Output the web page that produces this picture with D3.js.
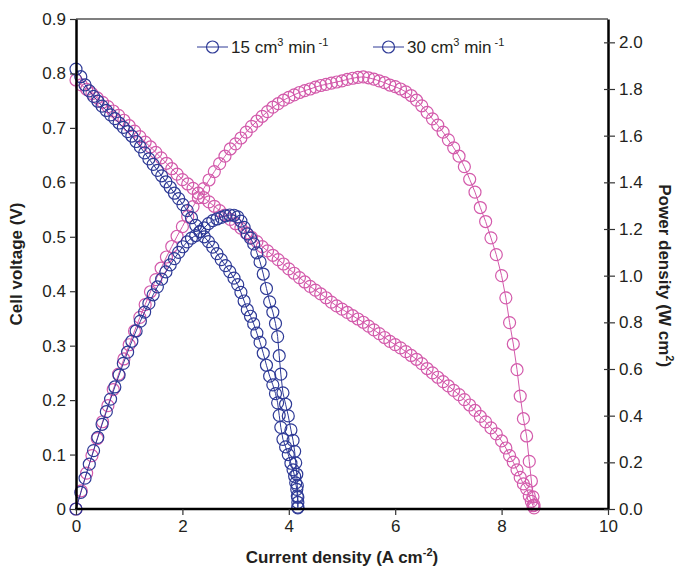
<!DOCTYPE html>
<html>
<head>
<meta charset="utf-8">
<script src="https://cdn.jsdelivr.net/npm/d3@7"></script>
<style>
  body { margin: 0; background: #fff; }
  text { font-family: "Liberation Sans", Arial, sans-serif; fill: #231f20; }
</style>
</head>
<body>
<div id="chart"></div>
<script>

// 15 cm3/min (blue)
var cur15 = [0, 0.09, 0.17, 0.25, 0.33, 0.41, 0.49, 0.57, 0.65, 0.73, 0.81, 0.89, 0.97, 1.05, 1.13, 1.21, 1.29, 1.37, 1.45, 1.53,
             1.61, 1.69, 1.77, 1.85, 1.93, 2.01, 2.09, 2.17, 2.25, 2.33, 2.41, 2.49, 2.57, 2.65, 2.73, 2.81, 2.89, 2.97, 3.04, 3.10,
             3.16, 3.22, 3.28, 3.34, 3.40, 3.46, 3.52, 3.58, 3.64, 3.70, 3.75, 3.79, 3.82, 3.85, 3.89, 3.94, 3.99, 4.04, 4.08, 4.11,
             4.13, 4.15, 4.16, 4.17, 4.17];
var volt15 = [0.808, 0.794, 0.779, 0.768, 0.758, 0.749, 0.740, 0.732, 0.724, 0.717, 0.709, 0.701, 0.693, 0.685, 0.675, 0.665, 0.654, 0.643, 0.633, 0.622,
              0.612, 0.601, 0.591, 0.580, 0.570, 0.559, 0.548, 0.535, 0.521, 0.510, 0.500, 0.491, 0.481, 0.469, 0.458, 0.447, 0.436, 0.424, 0.412, 0.398,
              0.382, 0.366, 0.354, 0.340, 0.323, 0.306, 0.286, 0.264, 0.244, 0.228, 0.212, 0.195, 0.172, 0.150, 0.128, 0.114, 0.100, 0.084, 0.072, 0.060,
              0.048, 0.036, 0.024, 0.012, 0.002];
var pow15 = [0, 0.071, 0.132, 0.192, 0.250, 0.307, 0.363, 0.417, 0.471, 0.523, 0.574, 0.624, 0.672, 0.719, 0.763, 0.805, 0.844, 0.881, 0.918, 0.952,
             0.985, 1.016, 1.046, 1.073, 1.100, 1.124, 1.145, 1.161, 1.172, 1.188, 1.205, 1.223, 1.236, 1.243, 1.250, 1.256, 1.260, 1.259, 1.252, 1.234,
             1.207, 1.179, 1.161, 1.136, 1.098, 1.059, 1.007, 0.945, 0.888, 0.844, 0.795, 0.739, 0.657, 0.578, 0.498, 0.449, 0.399, 0.339, 0.294, 0.247,
             0.198, 0.149, 0.100, 0.050, 0.008];

// 30 cm3/min (pink)
var cur30 = [0, 0.1, 0.2, 0.3, 0.4, 0.5, 0.6, 0.7, 0.8, 0.9, 1.0, 1.1, 1.2, 1.3, 1.4, 1.5, 1.6, 1.7, 1.8, 1.9,
             2.0, 2.1, 2.2, 2.3, 2.4, 2.5, 2.6, 2.7, 2.8, 2.9, 3.0, 3.1, 3.2, 3.3, 3.4, 3.5, 3.6, 3.7, 3.8, 3.9,
             4.0, 4.1, 4.2, 4.3, 4.4, 4.5, 4.6, 4.7, 4.8, 4.9, 5.0, 5.1, 5.2, 5.3, 5.4, 5.5, 5.6, 5.7, 5.8, 5.9,
             6.0, 6.1, 6.2, 6.3, 6.4, 6.5, 6.6, 6.7, 6.8, 6.9, 7.0, 7.1, 7.2, 7.3, 7.4, 7.5, 7.6, 7.7, 7.8, 7.9,
             8.0, 8.08, 8.15, 8.22, 8.29, 8.35, 8.41, 8.47, 8.52, 8.56, 8.59, 8.61];
var volt30 = [0.788, 0.779, 0.771, 0.763, 0.755, 0.747, 0.739, 0.731, 0.723, 0.714, 0.704, 0.694, 0.684, 0.674, 0.665, 0.655, 0.645, 0.635, 0.625, 0.615,
              0.605, 0.597, 0.589, 0.580, 0.572, 0.564, 0.556, 0.548, 0.540, 0.532, 0.524, 0.516, 0.507, 0.499, 0.491, 0.482, 0.474, 0.466, 0.458, 0.450,
              0.441, 0.433, 0.425, 0.417, 0.409, 0.402, 0.395, 0.388, 0.380, 0.373, 0.367, 0.361, 0.355, 0.349, 0.343, 0.336, 0.329, 0.322, 0.315, 0.308,
              0.302, 0.296, 0.289, 0.282, 0.275, 0.267, 0.258, 0.250, 0.242, 0.234, 0.226, 0.218, 0.210, 0.201, 0.191, 0.181, 0.170, 0.160, 0.149, 0.138,
              0.125, 0.112, 0.098, 0.086, 0.072, 0.058, 0.046, 0.037, 0.024, 0.014, 0.006, 0.002];
var pow30 = [0, 0.078, 0.154, 0.229, 0.302, 0.374, 0.443, 0.512, 0.578, 0.643, 0.704, 0.763, 0.821, 0.876, 0.931, 0.983, 1.032, 1.080, 1.125, 1.169,
             1.210, 1.254, 1.296, 1.334, 1.373, 1.410, 1.446, 1.480, 1.512, 1.543, 1.565, 1.590, 1.615, 1.640, 1.662, 1.683, 1.703, 1.722, 1.737, 1.752,
             1.764, 1.775, 1.785, 1.793, 1.800, 1.808, 1.815, 1.820, 1.825, 1.830, 1.835, 1.841, 1.846, 1.850, 1.852, 1.848, 1.842, 1.835, 1.827, 1.817,
             1.810, 1.800, 1.788, 1.772, 1.752, 1.728, 1.700, 1.672, 1.645, 1.615, 1.582, 1.548, 1.512, 1.467, 1.413, 1.358, 1.292, 1.232, 1.162, 1.090,
             1.000, 0.905, 0.799, 0.707, 0.597, 0.484, 0.387, 0.313, 0.204, 0.120, 0.052, 0.017];

var xTicks = [0, 2, 4, 6, 8, 10];
var voltTicks = [0, 0.1, 0.2, 0.3, 0.4, 0.5, 0.6, 0.7, 0.8, 0.9];
var powTicks = [0, 0.2, 0.4, 0.6, 0.8, 1.0, 1.2, 1.4, 1.6, 1.8, 2.0];

var width = 678, height = 569;
var margin = { top: 19, right: 70, bottom: 60, left: 76 };
var blue = "#2e3a96", pink = "#d35aab";

var svg = d3.select("#chart").append("svg")
  .attr("width", width)
  .attr("height", height);

var x = d3.scaleLinear().domain([0, 10]).range([margin.left, width - margin.right]);
var yV = d3.scaleLinear().domain([0, 0.9]).range([height - margin.bottom, margin.top]);
var yP = d3.scaleLinear().domain([0, 2.1]).range([height - margin.bottom, margin.top]);

// top frame line
svg.append("line")
  .attr("x1", x(0)).attr("x2", x(10))
  .attr("y1", yV(0.9)).attr("y2", yV(0.9))
  .attr("stroke", "#000").attr("stroke-width", 1.2);

function drawSeries(cur, vals, yScale, col) {
  var pts = cur.map(function(c, i) { return [c, vals[i]]; });
  var line = d3.line()
    .x(function(d) { return x(d[0]); })
    .y(function(d) { return yScale(d[1]); });
  svg.append("path")
    .datum(pts)
    .attr("d", line)
    .attr("fill", "none")
    .attr("stroke", col)
    .attr("stroke-width", 1);
  svg.append("g").selectAll("circle")
    .data(pts)
    .enter()
    .append("circle")
    .attr("cx", function(d) { return x(d[0]); })
    .attr("cy", function(d) { return yScale(d[1]); })
    .attr("r", 6)
    .attr("fill", "none")
    .attr("stroke", col)
    .attr("stroke-width", 1.2);
}

drawSeries(cur30, volt30, yV, pink);
drawSeries(cur30, pow30, yP, pink);
drawSeries(cur15, volt15, yV, blue);
drawSeries(cur15, pow15, yP, blue);

// axes
var xAxis = d3.axisBottom(x).tickValues(xTicks).tickSize(6).tickSizeOuter(0).tickPadding(5);
var yAxisL = d3.axisLeft(yV).tickValues(voltTicks).tickSize(6).tickSizeOuter(0).tickPadding(4)
  .tickFormat(function(d) { return d === 0 ? "0" : d3.format(".1f")(d); });
var yAxisR = d3.axisRight(yP).tickValues(powTicks).tickSize(7).tickSizeOuter(0).tickPadding(4)
  .tickFormat(d3.format(".1f"));

var gx = svg.append("g")
  .attr("transform", "translate(0," + yV(0) + ")")
  .call(xAxis);
var gl = svg.append("g")
  .attr("transform", "translate(" + x(0) + ",0)")
  .call(yAxisL);
var gr = svg.append("g")
  .attr("transform", "translate(" + x(10) + ",0)")
  .call(yAxisR);

[gx, gl, gr].forEach(function(g) {
  g.select(".domain").attr("stroke", "#000").attr("stroke-width", 2.5);
  g.selectAll(".tick line").attr("stroke", "#333").attr("stroke-width", 1.2);
  g.selectAll(".tick text").style("font-size", "17px").attr("fill", "#231f20");
});
gr.selectAll(".tick line").attr("x1", -4);
gx.select(".domain").attr("d", "M" + (x(0) - 1) + ",0H" + (x(10) + 1));

// axis titles
var xTitle = svg.append("text")
  .attr("x", (x(0) + x(10)) / 2)
  .attr("y", 563)
  .attr("text-anchor", "middle")
  .style("font-size", "17px")
  .style("font-weight", "bold");
xTitle.append("tspan").text("Current density (A cm");
xTitle.append("tspan").attr("dy", -7).style("font-size", "11px").text("-2");
xTitle.append("tspan").attr("dy", 7).text(")");

svg.append("text")
  .attr("transform", "translate(22," + yV(0.45) + ") rotate(-90)")
  .attr("text-anchor", "middle")
  .style("font-size", "17px")
  .style("font-weight", "bold")
  .text("Cell voltage (V)");

var rTitle = svg.append("text")
  .attr("transform", "translate(659," + yP(1.0) + ") rotate(90)")
  .attr("text-anchor", "middle")
  .style("font-size", "17px")
  .style("font-weight", "bold");
rTitle.append("tspan").text("Power density (W cm");
rTitle.append("tspan").attr("dy", -7).style("font-size", "11px").text("2");
rTitle.append("tspan").attr("dy", 7).text(")");

// legend
var legendItems = [{ name: "15", x: 197 }, { name: "30", x: 373 }];
var legend = svg.append("g").selectAll("g")
  .data(legendItems)
  .enter()
  .append("g")
  .attr("transform", function(d) { return "translate(" + d.x + ",47)"; });
legend.append("line")
  .attr("x1", 0).attr("x2", 31)
  .attr("stroke", blue).attr("stroke-width", 1);
legend.append("circle")
  .attr("cx", 15.5).attr("r", 6)
  .attr("fill", "none").attr("stroke", blue).attr("stroke-width", 1.2);
var lt = legend.append("text")
  .attr("x", 34).attr("y", 6)
  .style("font-size", "17px");
lt.append("tspan").text(function(d) { return d.name + " cm"; });
lt.append("tspan").attr("dy", -7).style("font-size", "11px").text("3");
lt.append("tspan").attr("dy", 7).text(" min");
lt.append("tspan").attr("dy", -7).style("font-size", "11px").text(" -1");

</script>
</body>
</html>
